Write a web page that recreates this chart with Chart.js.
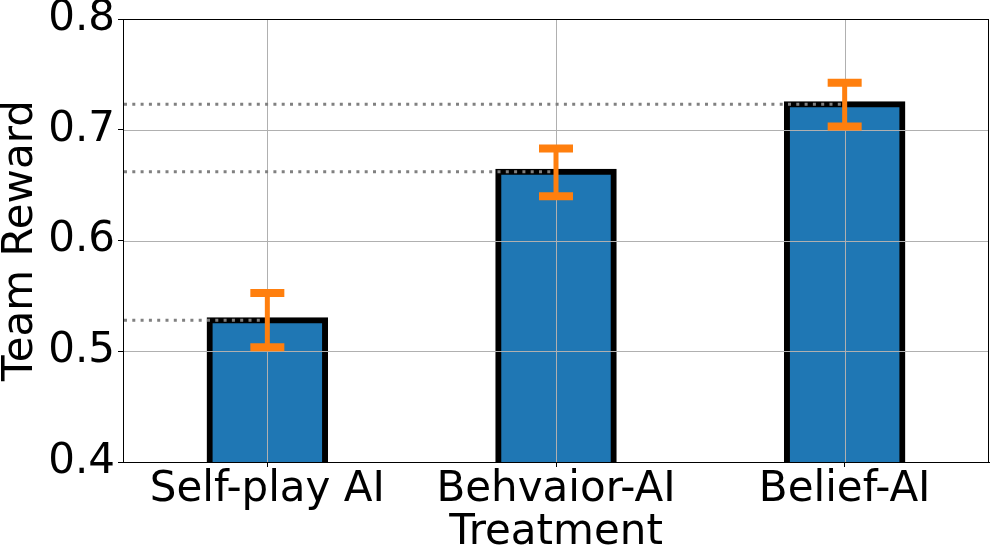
<!DOCTYPE html>
<html>
<head>
<meta charset="utf-8">
<script src="https://cdn.jsdelivr.net/npm/chart.js@4.4.1/dist/chart.umd.min.js"></script>
<style>
html,body{margin:0;padding:0;background:#fff;}
canvas{display:block;}
</style>
</head>
<body>
<canvas id="c" width="990" height="550"></canvas>
<script>
// ---- data ----
const categories = ["Self-play AI", "Behvaior-AI", "Belief-AI"];
const teamReward = [0.528, 0.662, 0.723];
const errLow = [0.5035, 0.640, 0.703];
const errHigh = [0.5525, 0.683, 0.7425];
const yTicks = [0.4, 0.5, 0.6, 0.7, 0.8];
const xTitle = "Treatment";
const yTitle = "Team Reward";

const FONT = "'DejaVu Sans', sans-serif";

const overlay = {
  id: 'overlay',
  afterDatasetsDraw(chart) {
    const {ctx, chartArea: a, scales: {x, y}} = chart;
    ctx.save();
    ctx.beginPath();
    ctx.rect(a.left, a.top, a.right - a.left, a.bottom - a.top);
    ctx.clip();
    // grid lines on top of bars
    ctx.strokeStyle = '#b0b0b0';
    ctx.lineWidth = 1;
    yTicks.forEach(v => {
      const py = Math.round(y.getPixelForValue(v)) + 0.5;
      ctx.beginPath(); ctx.moveTo(a.left, py); ctx.lineTo(a.right, py); ctx.stroke();
    });
    categories.forEach((c, i) => {
      const px = Math.round(x.getPixelForValue(i)) + 0.5;
      ctx.beginPath(); ctx.moveTo(px, a.top); ctx.lineTo(px, a.bottom); ctx.stroke();
    });
    // dotted reference lines
    ctx.strokeStyle = '#808080';
    ctx.lineWidth = 3;
    ctx.setLineDash([3, 5.3]);
    teamReward.forEach((v, i) => {
      const py = y.getPixelForValue(v);
      const px = x.getPixelForValue(i);
      ctx.beginPath(); ctx.moveTo(a.left + 1, py); ctx.lineTo(px, py); ctx.stroke();
    });
    ctx.setLineDash([]);
    // error bars
    ctx.strokeStyle = '#ff7f0e';
    teamReward.forEach((v, i) => {
      const px = x.getPixelForValue(i);
      const lo = y.getPixelForValue(errLow[i]);
      const hi = y.getPixelForValue(errHigh[i]);
      ctx.lineWidth = 5;
      ctx.beginPath(); ctx.moveTo(px, lo); ctx.lineTo(px, hi); ctx.stroke();
      ctx.lineWidth = 8;
      [lo, hi].forEach(py => {
        ctx.beginPath(); ctx.moveTo(px - 17, py); ctx.lineTo(px + 17, py); ctx.stroke();
      });
    });
    ctx.restore();
    // frame
    ctx.save();
    ctx.strokeStyle = '#000';
    ctx.lineWidth = 1;
    ctx.strokeRect(Math.round(a.left) + 0.5, Math.round(a.top) + 0.5,
                   Math.round(a.right - a.left) - 1, Math.round(a.bottom - a.top));
    ctx.restore();
  }
};

new Chart(document.getElementById('c'), {
  type: 'bar',
  data: {
    labels: categories,
    datasets: [{
      data: teamReward,
      backgroundColor: '#1f77b4',
      borderColor: '#000000',
      borderWidth: 6,
      inflateAmount: 3,
      barPercentage: 0.4,
      categoryPercentage: 1.0
    }]
  },
  options: {
    responsive: false,
    devicePixelRatio: 1,
    animation: false,
    layout: {padding: {top: 19, right: 1, left: 0, bottom: 0}},
    plugins: {legend: {display: false}, tooltip: {enabled: false}},
    scales: {
      x: {
        offset: true,
        grid: {drawOnChartArea: false, drawTicks: true, tickLength: 5, tickColor: '#000', offset: false},
        border: {display: true, color: '#000', width: 1},
        ticks: {color: '#000', font: {family: FONT, size: 42, lineHeight: 1}, padding: 2, maxRotation: 0, autoSkip: false},
        title: {display: true, text: xTitle, color: '#000', font: {family: FONT, size: 42, lineHeight: 0.8}, padding: {top: 0, bottom: 0}},
        afterFit(s) { s.height = 88; s.paddingLeft = 0; s.paddingRight = 0; }
      },
      y: {
        min: 0.4,
        max: 0.8,
        afterBuildTicks(s) { s.ticks = yTicks.map(v => ({value: v})); },
        grid: {drawOnChartArea: false, drawTicks: true, tickLength: 5, tickColor: '#000'},
        border: {display: true, color: '#000', width: 1},
        ticks: {color: '#000', font: {family: FONT, size: 42, lineHeight: 1}, padding: 3,
                callback: v => Number(v).toFixed(1)},
        title: {display: true, text: yTitle, color: '#000', font: {family: FONT, size: 42, lineHeight: 1}, padding: {top: 0, bottom: 0}},
        afterFit(s) { s.width = 123; s.paddingTop = 0; s.paddingBottom = 0; }
      }
    }
  },
  plugins: [overlay]
});
</script>
</body>
</html>
